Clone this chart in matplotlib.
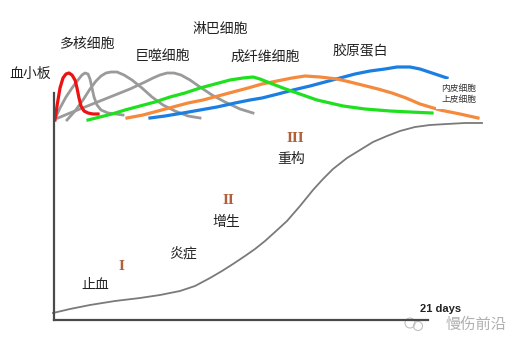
import numpy as np
import matplotlib.pyplot as plt

plt.rcParams['font.family'] = ['Noto Sans CJK SC', 'DejaVu Sans']

# curves (x, y in picture units, y grows downward)
red_x = [55, 57, 60, 63, 66, 69, 72, 75, 77, 79, 81, 84, 88, 93, 98]
red_y = [120, 106, 88, 78, 74, 73, 75, 80, 88, 98, 106, 111, 113, 114, 114]

gray1_x = [55, 60, 66, 72, 78, 82, 85, 88, 90, 92, 94, 97, 101, 108, 116, 123]
gray1_y = [119, 108, 97, 88, 80, 75, 73, 74, 79, 88, 97, 105, 110, 113, 114, 115]

gray2_x = [67, 75, 83, 90, 96, 101, 106, 111, 117, 124, 132, 142, 152, 163, 175, 188, 200]
gray2_y = [120, 111, 100, 89, 81, 76, 73, 72, 72, 75, 80, 88, 97, 105, 111, 116, 118]

gray3_x = [58, 70, 85, 100, 115, 130, 145, 153, 160, 167, 174, 181, 190, 200, 212, 225, 240, 253]
gray3_y = [118, 113, 107, 101, 95, 89, 82, 78, 75, 73, 73, 75, 80, 87, 95, 102, 109, 113]

green_x = [88, 100, 112, 125, 140, 155, 170, 185, 200, 215, 230, 243, 253, 260, 270, 283, 297, 317,
           343, 365, 390, 410, 432]
green_y = [120, 117, 114, 110, 106, 102, 97, 93, 88, 84, 80, 78, 77, 79, 83, 88, 93, 100, 106, 109,
           111, 112, 113]

orange_x = [127, 143, 158, 173, 188, 203, 218, 233, 248, 262, 277, 292, 305, 320, 337, 350, 362, 378,
            392, 406, 420, 440, 460, 478]
orange_y = [118, 115, 111, 107, 103, 100, 96, 92, 88, 84, 81, 78, 76, 77, 79, 82, 85, 89, 93, 98, 104,
            110, 114, 118]

blue_x = [150, 165, 183, 200, 217, 235, 250, 262, 278, 293, 310, 325, 340, 355, 370, 385, 397, 410,
          420, 432, 447]
blue_y = [118, 116, 113, 110, 107, 103, 100, 98, 94, 90, 86, 82, 78, 74, 71, 69, 67, 67, 69, 73, 78]

strength_x = [53, 70, 90, 115, 140, 160, 180, 195, 210, 222, 233, 245, 255, 265, 275, 287, 300, 313,
              323, 333, 347, 360, 373, 387, 400, 415, 430, 447, 465, 482]
strength_y = [313, 309, 305, 301, 298, 295, 291, 286, 278, 271, 264, 256, 249, 241, 232, 221, 206, 190,
              179, 169, 158, 150, 142, 136, 131, 127, 125, 124, 123, 123]

cell_labels = ['血小板', '多核细胞', '巨噬细胞', '淋巴细胞', '成纤维细胞', '胶原蛋白']
phase_numerals = ['I', 'II', 'III']
phase_names = ['止血', '增生', '重构']

fig = plt.figure(figsize=(5.23, 3.5), dpi=100)
ax = fig.add_axes([0, 0, 1, 1])
ax.set_xlim(0, 523)
ax.set_ylim(350, 0)
ax.set_xticks([])
ax.set_yticks([])
for s in ['top', 'right']:
    ax.spines[s].set_visible(False)
ax.spines['left'].set_position(('data', 54))
ax.spines['left'].set_bounds(93, 320)
ax.spines['bottom'].set_position(('data', 320))
ax.spines['bottom'].set_bounds(54, 428)
for s in ['left', 'bottom']:
    ax.spines[s].set_color('#4a4a4a')
    ax.spines[s].set_linewidth(1.6)

ax.plot(strength_x, strength_y, color='#7a7a7a', lw=1.3)
gray = '#9a9a9a'
ax.plot(gray3_x, gray3_y, color=gray, lw=2.0)
ax.plot(gray2_x, gray2_y, color=gray, lw=2.0)
ax.plot(gray1_x, gray1_y, color=gray, lw=2.0)
ax.plot(blue_x, blue_y, color='#1a7fe0', lw=2.3)
ax.plot(orange_x, orange_y, color='#f58a3c', lw=2.3)
ax.plot(green_x, green_y, color='#1fe01f', lw=2.3)
ax.plot(red_x, red_y, color='#ee1111', lw=2.3)

label_pos = [(30, 74), (88, 44), (162, 56), (220, 29), (265, 57), (360, 51)]
for t, (x, y) in zip(cell_labels, label_pos):
    ax.text(x, y, t, fontsize=10, ha='center', va='center', color='#222222')

ax.text(459, 94, '内皮细胞\n上皮细胞', fontsize=6.3, ha='center', va='center', color='#333333',
        linespacing=1.15, bbox=dict(facecolor='white', edgecolor='none', pad=4), zorder=5)

num_pos = [(121, 266), (228, 201), (295, 139)]
for t, (x, y) in zip(phase_numerals, num_pos):
    ax.text(x, y, t, fontsize=9, ha='center', va='center', color='#b0603a',
            family='DejaVu Serif', fontweight='bold')

name_pos = [(95, 285), (226, 222), (291, 159)]
for t, (x, y) in zip(phase_names, name_pos):
    ax.text(x, y, t, fontsize=10, ha='center', va='center', color='#222222')
ax.text(183, 253, '炎症', fontsize=10, ha='center', va='center', color='#222222')

ax.text(441, 309, '21 days', fontsize=8, ha='center', va='center', color='#222222',
        fontweight='bold', family='Liberation Sans')

# watermark
ax.text(476, 324, '慢伤前沿', fontsize=11, ha='center', va='center', color='#b0b0b0')
ax.add_patch(plt.Circle((410, 323), 5, fill=False, color='#c0c0c0', lw=0.8))
ax.add_patch(plt.Circle((418, 326), 4.5, fill=False, color='#c0c0c0', lw=0.8))

fig.savefig('out.png', dpi=100)
